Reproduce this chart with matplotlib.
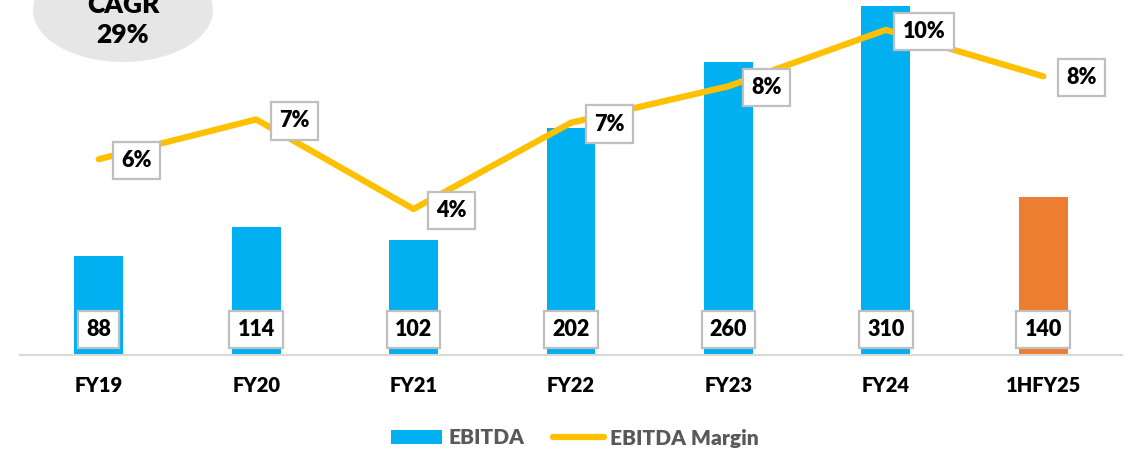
import matplotlib
matplotlib.use("Agg")
import matplotlib.pyplot as plt
from matplotlib.patches import Ellipse, Patch
from matplotlib.lines import Line2D

categories = ["FY19", "FY20", "FY21", "FY22", "FY23", "FY24", "1HFY25"]
ebitda = [88, 114, 102, 202, 260, 310, 140]
margin = [5.8, 7.0, 4.3, 6.9, 8.0, 9.7, 8.3]
margin_labels = ["6%", "7%", "4%", "7%", "8%", "10%", "8%"]
bar_colors = ["#00B0F0"] * 6 + ["#ED7D31"]
cagr_text = "CAGR\n29%"

plt.rcParams['font.family'] = ['Lato', 'DejaVu Sans']
WT = 'heavy'

W, H = 1127, 453
fig = plt.figure(figsize=(W / 100, H / 100), dpi=100)
ax = fig.add_axes([20 / W, (H - 355) / H, 1102 / W, 355 / H])
ax2 = ax.twinx()

x = list(range(len(categories)))
ax.bar(x, ebitda, width=0.31, color=bar_colors, zorder=2)
ax.set_xlim(-0.5, len(categories) - 0.5)
ax.set_ylim(0, 315.5)
ax2.set_ylim(-0.1, 10.6)

ax2.plot(x, margin, color="#FFC000", lw=4.5, solid_capstyle='round', zorder=3)

box = dict(boxstyle="square,pad=0.38", facecolor="white", edgecolor="#BFBFBF", lw=1.6)
for i, v in enumerate(ebitda):
    ax.annotate(str(v), xy=(i, 0), xytext=(0, 18.5), textcoords="offset points",
                ha="center", va="center", fontsize=15.5, fontweight=WT,
                color="black", bbox=box, zorder=5)
for i, (m, lab) in enumerate(zip(margin, margin_labels)):
    ax2.annotate(lab, xy=(i, m), xytext=(27.5, -1), textcoords="offset points",
                 ha="center", va="center", fontsize=15.5, fontweight=WT,
                 color="black", bbox=box, zorder=5)

for a in (ax, ax2):
    for s in a.spines.values():
        s.set_visible(False)
    a.set_yticks([])
ax.spines['bottom'].set_visible(True)
ax.spines['bottom'].set_color("#D9D9D9")
ax.spines['bottom'].set_linewidth(1.5)
ax.set_xticks(x)
ax.set_xticklabels(categories, fontsize=14.5, fontweight=WT, color="black")
ax.tick_params(axis='x', length=0, pad=15)

# CAGR bubble
ell = Ellipse((123 / W, 1 - 10 / H), 180 / W, 104 / H, transform=fig.transFigure,
              facecolor="#E6E6E6", edgecolor="none", zorder=0)
fig.patches.append(ell)
fig.text(123 / W, 1 - 20 / H, cagr_text, ha="center", va="center", fontsize=19,
         fontweight=WT, color="black", linespacing=1.3)

handles = [Patch(facecolor="#00B0F0", edgecolor="none"),
           Line2D([0], [0], color="#FFC000", lw=4.5, solid_capstyle='round')]
leg = fig.legend(handles, ["EBITDA", "EBITDA Margin"], loc="center",
                 bbox_to_anchor=(575 / W, 1 - 438 / H), ncol=2, frameon=False,
                 prop=dict(family=['Lato'], weight=WT, size=15),
                 labelcolor="#595959", handlelength=2.45, handleheight=0.65,
                 handletextpad=0.3, columnspacing=1.4)

fig.savefig("out.png", dpi=100)
